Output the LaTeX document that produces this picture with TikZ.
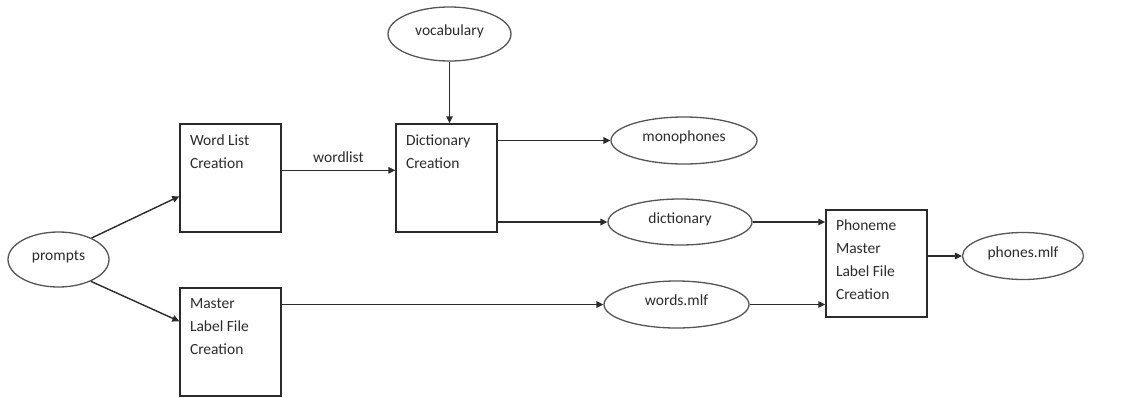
\documentclass[tikz,border=0pt]{standalone}
\usepackage{fontspec}
\setmainfont{Carlito}
\usetikzlibrary{shapes.geometric,arrows.meta,calc}
\definecolor{ink}{HTML}{2B2B2B}
\definecolor{rim}{HTML}{555555}
\begin{document}
\begin{tikzpicture}[x=1pt,y=-1pt,
  every node/.style={font=\fontsize{15.5}{23}\selectfont, text=ink},
  procbox/.style={draw=ink, line width=1.4pt, rectangle, minimum width=101pt, minimum height=108pt, inner sep=0pt},
  boxtext/.style={anchor=north west, align=left, inner sep=0pt},
  datafile/.style={draw=rim, line width=1.3pt, ellipse, inner sep=0pt, text height=10pt, text depth=8pt},
  flow/.style={draw=ink, line width=1.4pt, -{Triangle[length=7pt,width=6.5pt]}}
]
\useasboundingbox (0,0) rectangle (1125,397);

% processing steps
\node[procbox] (wl) at (230.5,178) {};
\node[procbox] (dict) at (446.5,178) {};
\node[procbox] (master) at (230.5,342) {};
\node[procbox, minimum height=107pt] (phon) at (876.5,263.5) {};

\node[boxtext] (wltext) at ($(wl.north west)+(10.5,11.5)$) {Word List\\Creation};
\node[boxtext] (dicttext) at ($(dict.north west)+(10.5,11.5)$) {Dictionary\\Creation};
\node[boxtext] (mastertext) at ($(master.north west)+(10.5,11.5)$) {Master\\Label File\\Creation};
\node[boxtext] (phontext) at ($(phon.north west)+(10.5,10.5)$) {Phoneme\\Master\\Label File\\Creation};

% data files
\node[datafile, minimum width=123pt, minimum height=54pt] (voc) at (449.5,34) {vocabulary};
\node[datafile, minimum width=146pt, minimum height=47pt] (mono) at (684,140.5) {monophones};
\node[datafile, minimum width=144pt, minimum height=46pt] (dic) at (680,222) {dictionary};
\node[datafile, minimum width=145pt, minimum height=47pt] (words) at (676.5,304.5) {words.mlf};
\node[datafile, minimum width=121pt, minimum height=47pt] (phones) at (1023,256) {phones.mlf};
\node[datafile, minimum width=101pt, minimum height=55pt] (prompts) at (58.5,259.5) {prompts};

% connectors
\path[flow] (prompts.33) -- ($(wl.north west)+(0,73)$);
\path[flow] (prompts.-34) -- ($(master.north west)+(0,34)$);
\path[flow] ($(wl.north east)+(0,47)$) -- node[midway, above=4pt] (wlabel) {wordlist} ($(dict.north west)+(0,47)$);
\path[flow] (voc.south) -- (voc.south |- dict.north);
\path[flow] (dict.east |- mono.west) -- (mono.west);
\path[flow] (dict.east |- dic.west) -- (dic.west);
\path[flow] (dic.east) -- (dic.east -| phon.west);
\path[flow] (master.east |- words.west) -- (words.west);
\path[flow] (words.east) -- (words.east -| phon.west);
\path[flow] (phon.east |- phones.west) -- (phones.west);
\end{tikzpicture}
\end{document}
